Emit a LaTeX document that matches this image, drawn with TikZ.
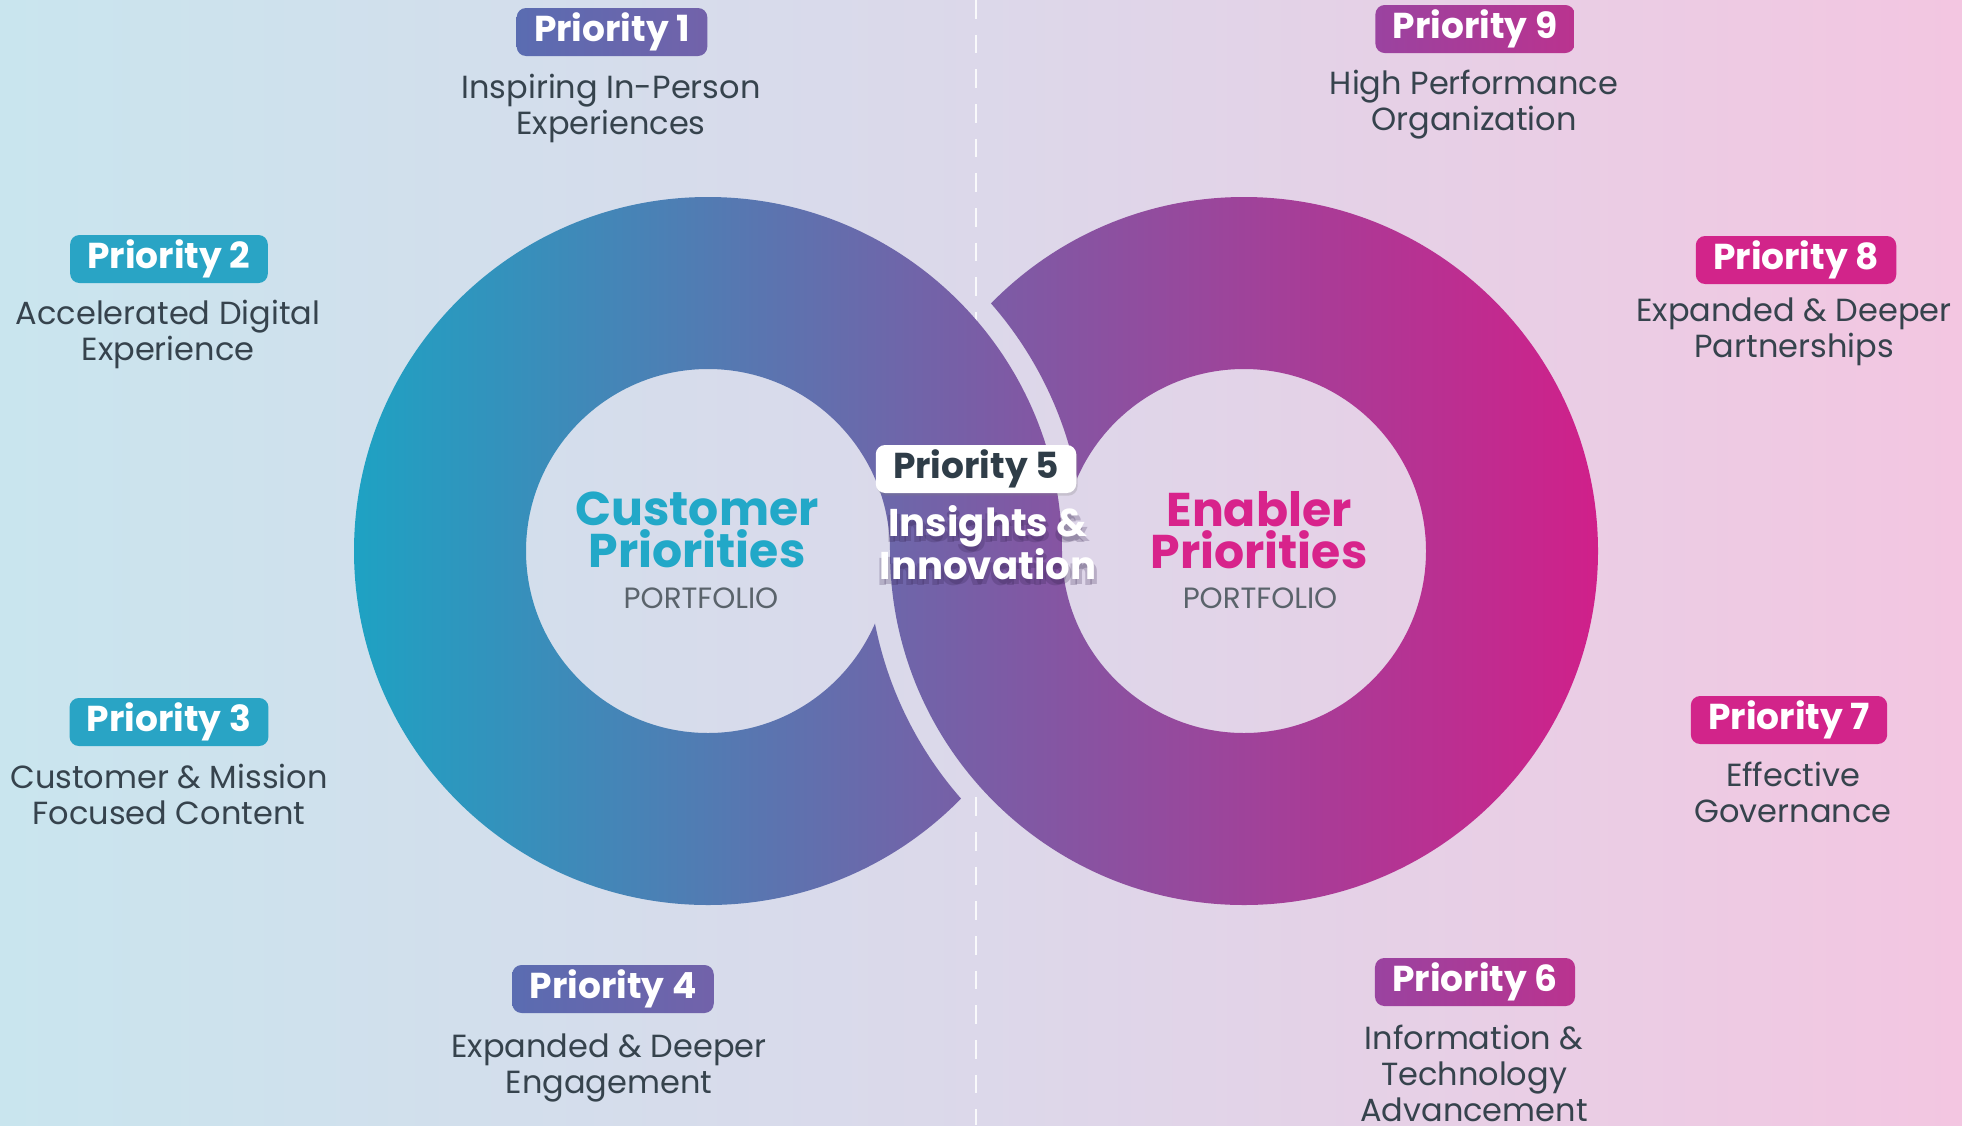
\documentclass[tikz,border=0pt]{standalone}
\usepackage{fontspec}
\setmainfont{Poppins}
\usetikzlibrary{shadows}

\definecolor{bgcyan}{HTML}{C9E5EE}
\definecolor{bglav}{HTML}{DCD8EA}
\definecolor{bgpink}{HTML}{F3C6E1}
\definecolor{ringteal}{HTML}{1EA2C3}
\definecolor{ringmidL}{HTML}{8654A2}
\definecolor{ringmidR}{HTML}{6D66AA}
\definecolor{ringmag}{HTML}{D0208A}
\definecolor{txtdark}{HTML}{36434D}
\definecolor{txtgrey}{HTML}{5A636B}
\definecolor{custteal}{HTML}{22A8C8}
\definecolor{enabmag}{HTML}{D8238B}
\definecolor{boxteal}{HTML}{29A4C5}
\definecolor{boxblueL}{HTML}{5A6CB1}
\definecolor{boxblueR}{HTML}{7262AA}
\definecolor{boxplumL}{HTML}{9A43A0}
\definecolor{boxplumR}{HTML}{BA338F}
\definecolor{boxmag}{HTML}{D2248A}
\definecolor{boxdark}{HTML}{2F3D48}
\definecolor{glowplum}{HTML}{2E1C48}

\begin{document}
\begin{tikzpicture}[x=0.75pt,y=0.75pt,yscale=-1,xscale=1,
  prio/.style={rounded corners=7pt, inner xsep=13pt, inner ysep=0pt, minimum height=36pt, text=white, font=\fontsize{27}{30}\selectfont\bfseries},
  desc/.style={align=center, inner sep=0pt, text=txtdark, font=\fontsize{24}{27}\selectfont},
  title/.style={align=center, inner sep=0pt, font=\fontsize{35.5}{32}\selectfont\bfseries},
  folio/.style={inner sep=0pt, text=txtgrey, font=\fontsize{22}{24}\selectfont},
  glow/.style={align=center, inner sep=0pt, text=glowplum, text opacity=0.22, font=\fontsize{29}{31}\selectfont\bfseries}
]
\useasboundingbox (0,0) rectangle (1962,1125);
\clip (0,0) rectangle (1962,1125);

%Shape: Background
\shade [left color=bgcyan, right color=bgpink, middle color=bglav] (0,0) rectangle (1962,1125);
%Straight Lines: divider
\draw [white, opacity=0.85, line width=1.5pt, dash pattern=on 14pt off 12pt] (976,0) -- (976,1125);

%Shape: Ring right (cut where the left ring passes over it)
\begin{scope}[even odd rule]
\clip (0,0) rectangle (1962,1125) (332,551) arc [start angle=180, end angle=360, radius=376] -- cycle;
\shade [left color=ringmidR, right color=ringmag] (1244,551) circle [radius=354] (1244,551) circle [radius=182];
\end{scope}
%Shape: Ring left (cut where the right ring passes over it)
\begin{scope}[even odd rule]
\clip (0,0) rectangle (1962,1125) (868,551) arc [start angle=180, end angle=0, radius=376] -- cycle;
\shade [left color=ringteal, right color=ringmidL] (708,551) circle [radius=354] (708,551) circle [radius=182];
\end{scope}

% Text Node
\node (cust) at (697,530) [title, text=custteal] {Customer\\Priorities};
\node (custfolio) at (701,598) [folio] {PORTFOLIO};
% Text Node
\node (enab) at (1259,530) [title, text=enabmag] {Enabler\\Priorities};
\node (enabfolio) at (1260,598) [folio] {PORTFOLIO};

% Text Node
\node (p5) at (976,469) [prio, fill=white, text=boxdark, drop shadow={opacity=0.25, shadow xshift=1pt, shadow yshift=-2pt}] {Priority 5};
\node (insightglowA) at (991,548) [glow] {Insights \&\\Innovation};
\node (insightglowB) at (986,549) [glow] {Insights \&\\Innovation};
\node (insight) at (988,543) [glow, text=white, text opacity=1] {Insights \&\\Innovation};

% Text Node
\node (p1) at (612,32) [prio, left color=boxblueL, right color=boxblueR] {Priority 1};
\node (d1) at (611,108) [desc] {Inspiring In-Person\\Experiences};
% Text Node
\node (p2) at (169,259) [prio, fill=boxteal] {Priority 2};
\node (d2) at (168,334) [desc] {Accelerated Digital\\Experience};
% Text Node
\node (p3) at (169,722) [prio, fill=boxteal] {Priority 3};
\node (d3) at (169,794) [desc] {Customer \& Mission\\Focused Content};
% Text Node
\node (p4) at (613,989) [prio, left color=boxblueL, right color=boxblueR] {Priority 4};
\node (d4) at (609,1068) [desc] {Expanded \& Deeper\\Engagement};
% Text Node
\node (p9) at (1475,29) [prio, left color=boxplumL, right color=boxplumR] {Priority 9};
\node (d9) at (1474,105) [desc] {High Performance\\Organization};
% Text Node
\node (p8) at (1796,260) [prio, fill=boxmag] {Priority 8};
\node (d8) at (1794,332) [desc] {Expanded \& Deeper\\Partnerships};
% Text Node
\node (p7) at (1789,720) [prio, fill=boxmag] {Priority 7};
\node (d7) at (1793,792) [desc] {Effective\\Governance};
% Text Node
\node (p6) at (1475,982) [prio, left color=boxplumL, right color=boxplumR] {Priority 6};
\node (d6) at (1474,1073) [desc] {Information \&\\Technology\\Advancement};

\end{tikzpicture}
\end{document}
